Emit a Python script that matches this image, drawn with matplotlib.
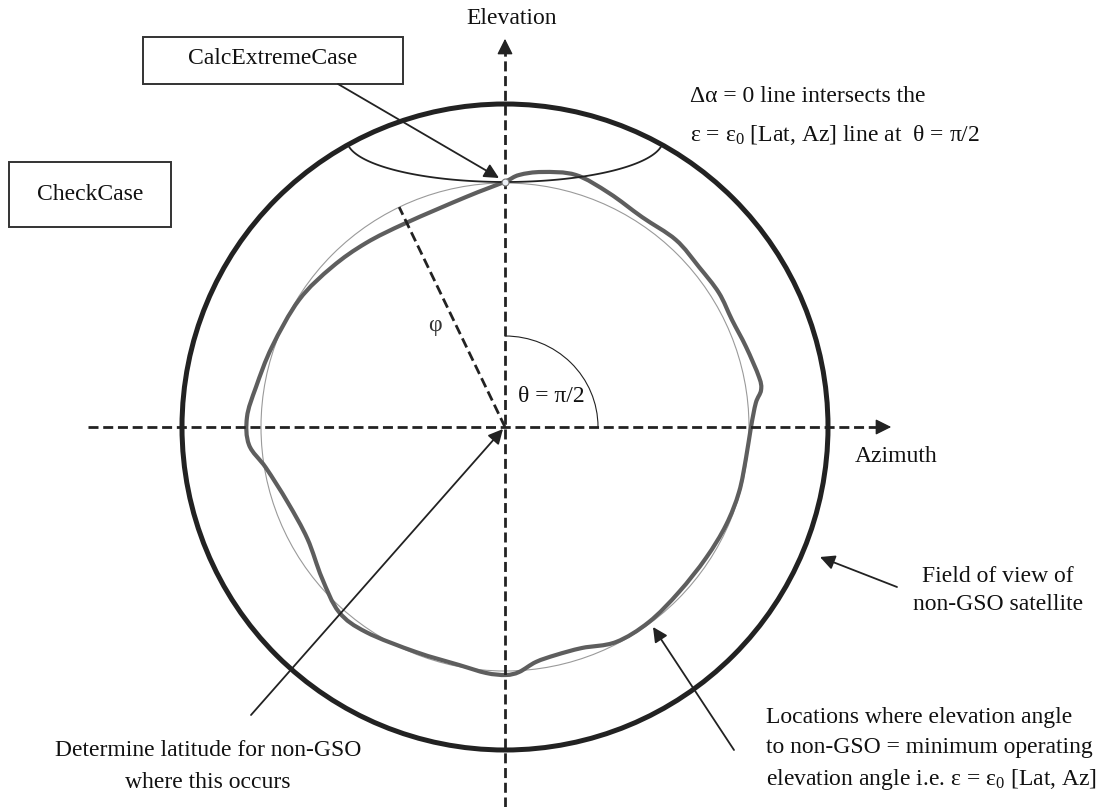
import matplotlib
matplotlib.use('Agg')
import matplotlib.pyplot as plt
import matplotlib.patches as mpatches
from matplotlib.path import Path
import numpy as np

plt.rcParams['font.family'] = ['Liberation Serif', 'DejaVu Serif']
plt.rcParams['mathtext.fontset'] = 'custom'
plt.rcParams['mathtext.rm'] = 'Liberation Serif'

# picture is drawn in pixel units (y down), centre of the field of view
centre = (505, 427)
fov_radius = 323          # field of view of non-GSO satellite
eps0_radius = 244         # nominal min. elevation circle

# eps = eps0 [Lat, Az] contour: angle (deg, ccw from azimuth) / radius (px)
contour_angle = [0, 5.5, 8.2, 11.1, 18.4, 25.2, 32.1, 39.5, 47.6, 56.9, 66.0, 74.3, 81.7, 86.8,
                 90.2, 99.6, 115.9, 127.1, 137.2, 148.3, 161.0, 170.9, 177.8, 184.0, 189.7,
                 199.1, 209.5, 219.5, 228.1, 235.9, 248.4, 259.1, 265.6, 270.2, 273.3, 277.5,
                 282.6, 289.2, 297.3, 306.4, 316.5, 326.9, 336.1, 344.5, 352.7]
contour_radius = [246, 252, 258.7, 258.9, 254, 251, 252.5, 251.5, 253.4, 250.7, 256, 261.8, 257.7, 252.4,
                  245, 233.3, 226.8, 230.6, 235.6, 242, 246.4, 252.2, 258.2, 256.6, 242.5,
                  230, 227, 237.3, 248.6, 247.7, 242, 242.4, 246.7, 248, 245.4, 237,
                  233.6, 234, 242, 242.4, 239.8, 239.9, 241.8, 242.9, 243]

fig = plt.figure(figsize=(11.07, 8.07), dpi=100)
ax = fig.add_axes([0, 0, 1, 1])
ax.set_xlim(0, 1107)
ax.set_ylim(807, 0)
ax.axis('off')

dark = '#222222'
fs = 17

# axes (dashed) with solid heads
dash = (0, (3.6, 1.7))
ax.plot([88, 880], [427, 427], color=dark, lw=2, linestyle=dash)
ax.plot([505, 505], [807, 50], color=dark, lw=2, linestyle=dash)
ax.annotate('', xy=(894, 427), xytext=(876, 427),
            arrowprops=dict(arrowstyle='-|>', color=dark, lw=1, mutation_scale=24))
ax.annotate('', xy=(505, 36), xytext=(505, 54),
            arrowprops=dict(arrowstyle='-|>', color=dark, lw=1, mutation_scale=24))

# circles
ax.add_patch(mpatches.Circle(centre, fov_radius, fill=False, ec=dark, lw=3.6))
ax.add_patch(mpatches.Circle(centre, eps0_radius, fill=False, ec='#9a9a9a', lw=0.8))

# wavy contour, drawn as a smooth closed bezier through the read points
a = np.radians(contour_angle)
r = np.array(contour_radius)
pts = np.column_stack([centre[0] + r * np.cos(a), centre[1] - r * np.sin(a)])
n = len(pts)
verts = [pts[0]]
codes = [Path.MOVETO]
for i in range(n):
    p0, p1, p2, p3 = pts[i - 1], pts[i], pts[(i + 1) % n], pts[(i + 2) % n]
    verts += [p1 + (p2 - p0) / 6, p2 - (p3 - p1) / 6, p2]
    codes += [Path.CURVE4] * 3
ax.add_patch(mpatches.PathPatch(Path(verts, codes), fill=False, ec='#5e5e5e', lw=3))

# delta alpha = 0 line (lower half of a flat ellipse)
t = np.radians(np.linspace(10, 170, 120))
ax.plot(505 + 158 * np.cos(t), 140 + 42 * np.sin(t), color=dark, lw=1.3)

# theta = pi/2 arc
ax.add_patch(mpatches.Arc(centre, 186, 182, theta1=270, theta2=360, ec=dark, lw=0.8))

# phi radius
phi = np.radians(25.7)
ax.plot([505, 505 - eps0_radius * np.sin(phi)], [427, 427 - eps0_radius * np.cos(phi)],
        color=dark, lw=2, linestyle=dash)

# intersection marker
ax.plot(505, 182, 'o', ms=5, mfc='#eef2f8', mec='#7a7a7a', mew=0.8, zorder=5)

# boxes
ax.add_patch(mpatches.Rectangle((143, 37), 260, 47, fill=False, ec='#333333', lw=1.4))
ax.text(273, 58, 'CalcExtremeCase', fontsize=fs, ha='center', va='center', color='#111111')
ax.add_patch(mpatches.Rectangle((9, 162), 162, 65, fill=False, ec='#333333', lw=1.4))
ax.text(90, 194, 'CheckCase', fontsize=fs, ha='center', va='center', color='#111111')

arrow = dict(arrowstyle='-|>', color=dark, lw=1.3, mutation_scale=22, shrinkA=0, shrinkB=0)
ax.annotate('', xy=(499, 178), xytext=(338, 84), arrowprops=arrow)
ax.annotate('', xy=(820, 557), xytext=(897, 587), arrowprops=arrow)
ax.annotate('', xy=(653, 627), xytext=(734, 750), arrowprops=arrow)
ax.annotate('', xy=(503, 429), xytext=(251, 715), arrowprops=arrow)

# labels
ax.text(512, 18, 'Elevation', fontsize=fs, ha='center', va='center', color='#111111')
ax.text(855, 457, 'Azimuth', fontsize=fs, ha='left', va='center', color='#111111')
ax.text(435, 325, 'φ', fontsize=fs, ha='center', va='center', color='#333333')
ax.text(518, 396, 'θ = π/2', fontsize=fs, ha='left', va='center', color='#111111')
ax.text(690, 97, 'Δα = 0 line intersects the', fontsize=fs, ha='left', va='center', color='#111111')
ax.text(690, 135, r'ε = $\mathregular{ε_0}$ [Lat, Az] line at  θ = π/2', fontsize=fs,
        ha='left', va='center', color='#111111')
ax.text(998, 577, 'Field of view of', fontsize=fs, ha='center', va='center', color='#111111')
ax.text(998, 605, 'non-GSO satellite', fontsize=fs, ha='center', va='center', color='#111111')
ax.text(766, 717, 'Locations where elevation angle', fontsize=fs, ha='left', va='center', color='#111111')
ax.text(766, 748, 'to non-GSO = minimum operating', fontsize=fs, ha='left', va='center', color='#111111')
ax.text(766, 780, r'elevation angle i.e. ε = $\mathregular{ε_0}$ [Lat, Az]', fontsize=fs,
        ha='left', va='center', color='#111111')
ax.text(208, 751, 'Determine latitude for non-GSO', fontsize=fs, ha='center', va='center', color='#111111')
ax.text(208, 782, 'where this occurs', fontsize=fs, ha='center', va='center', color='#111111')

fig.savefig('out.png', dpi=100)
